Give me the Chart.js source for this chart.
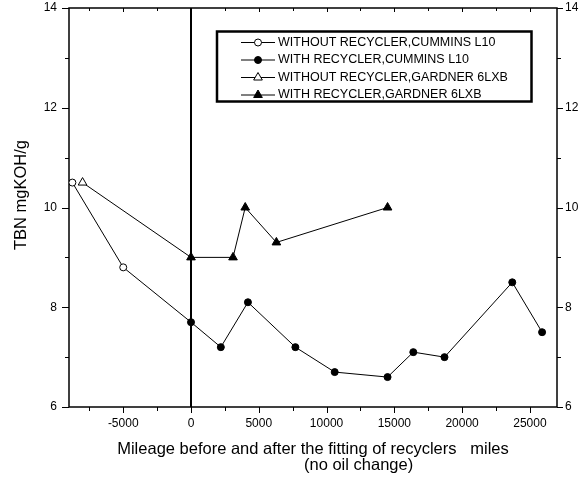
<!DOCTYPE html>
<html>
<head>
<meta charset="utf-8">
<script src="https://cdn.jsdelivr.net/npm/chart.js@4.4.1/dist/chart.umd.min.js"></script>
<style>
  html, body { margin: 0; padding: 0; background: #fff; }
  #wrap { width: 587px; height: 482px; }
</style>
</head>
<body>
<div id="wrap"><canvas id="tbnChart" width="587" height="482"></canvas></div>
<script>
// mileage (miles) and TBN (mgKOH/g)
const withoutCumminsMiles = [-8750, -5000, 0];
const withoutCumminsTbn = [10.5, 8.8, 7.7];
const withCumminsMiles = [0, 2200, 4200, 7700, 10600, 14500, 16400, 18700, 23700, 25900];
const withCumminsTbn = [7.7, 7.2, 8.1, 7.2, 6.7, 6.6, 7.1, 7.0, 8.5, 7.5];
const withoutGardnerMiles = [-8000, 0];
const withoutGardnerTbn = [10.5, 9.0];
const withGardnerMiles = [0, 3100, 4000, 6300, 14500];
const withGardnerTbn = [9.0, 9.0, 10.0, 9.3, 10.0];

const seriesNames = [
  "WITHOUT RECYCLER,CUMMINS L10",
  "WITH RECYCLER,CUMMINS L10",
  "WITHOUT RECYCLER,GARDNER 6LXB",
  "WITH RECYCLER,GARDNER 6LXB"
];

const xTicks = [-5000, 0, 5000, 10000, 15000, 20000, 25000];
const xMinorTicks = [-7500, -2500, 2500, 7500, 12500, 17500, 22500];
const yTicks = [6, 8, 10, 12, 14];
const yMinorTicks = [7, 9, 11, 13];

const FONT = "'Liberation Sans', Arial, Helvetica, sans-serif";

const toPoints = (xs, ys) => xs.map((x, i) => ({ x: x, y: ys[i] }));

const markerStyles = [
  { style: "circle", fill: "#fff", r: 3.5 },
  { style: "circle", fill: "#000", r: 3.5 },
  { style: "triangle", fill: "#fff", r: 5 },
  { style: "triangle", fill: "#000", r: 5 }
];

function makeDataset(i, pts, hideLast) {
  const m = markerStyles[i];
  return {
    label: seriesNames[i],
    data: pts,
    showLine: true,
    borderColor: "#000",
    borderWidth: 1,
    pointStyle: m.style,
    pointBackgroundColor: m.fill,
    pointBorderColor: "#000",
    pointBorderWidth: 1,
    // the "without" series end on the first "with" point, no marker there
    pointRadius: pts.map((p, j) => (hideLast && j === pts.length - 1 ? 0 : m.r)),
    pointHoverRadius: 0
  };
}

function drawMarker(ctx, i, x, y) {
  const m = markerStyles[i];
  ctx.save();
  ctx.fillStyle = m.fill;
  ctx.strokeStyle = "#000";
  ctx.lineWidth = 1;
  ctx.beginPath();
  if (m.style === "circle") {
    ctx.arc(x, y, m.r, 0, Math.PI * 2);
  } else {
    const r = m.r;
    ctx.moveTo(x, y - r);
    ctx.lineTo(x + r * Math.sin(2 * Math.PI / 3), y - r * Math.cos(2 * Math.PI / 3));
    ctx.lineTo(x + r * Math.sin(4 * Math.PI / 3), y - r * Math.cos(4 * Math.PI / 3));
    ctx.closePath();
  }
  ctx.fill();
  ctx.stroke();
  ctx.restore();
}

// frame, tick marks and the vertical line at 0 miles
const framePlugin = {
  id: "frame",
  beforeDatasetsDraw(chart) {
    const { ctx, chartArea: a, scales } = chart;
    const xs = scales.x, ys = scales.y;
    ctx.save();
    ctx.strokeStyle = "#000";

    ctx.lineWidth = 1;
    ctx.beginPath();
    xTicks.forEach(v => {
      const px = Math.round(xs.getPixelForValue(v)) + 0.5;
      ctx.moveTo(px, a.bottom); ctx.lineTo(px, a.bottom + 6);
      ctx.moveTo(px, a.top); ctx.lineTo(px, a.top + 4);
    });
    xMinorTicks.forEach(v => {
      const px = Math.round(xs.getPixelForValue(v)) + 0.5;
      ctx.moveTo(px, a.bottom); ctx.lineTo(px, a.bottom + 4);
      ctx.moveTo(px, a.top); ctx.lineTo(px, a.top + 3);
    });
    yTicks.forEach(v => {
      const py = Math.round(ys.getPixelForValue(v)) + 0.5;
      ctx.moveTo(a.left - 7, py); ctx.lineTo(a.left, py);
      ctx.moveTo(a.right, py); ctx.lineTo(a.right + 6, py);
    });
    yMinorTicks.forEach(v => {
      const py = Math.round(ys.getPixelForValue(v)) + 0.5;
      ctx.moveTo(a.left - 4, py); ctx.lineTo(a.left, py);
      ctx.moveTo(a.right, py); ctx.lineTo(a.right + 4, py);
    });
    ctx.stroke();

    ctx.lineWidth = 1.5;
    ctx.strokeRect(a.left, a.top, a.right - a.left, a.bottom - a.top);

    const zx = xs.getPixelForValue(0);
    ctx.lineWidth = 2;
    ctx.beginPath();
    ctx.moveTo(zx, a.top);
    ctx.lineTo(zx, a.bottom);
    ctx.stroke();
    ctx.restore();
  },
  afterDraw(chart) {
    const { ctx, chartArea: a } = chart;
    ctx.save();

    // legend box
    ctx.strokeStyle = "#000";
    ctx.lineWidth = 2.5;
    ctx.strokeRect(217, 31.5, 314.5, 70);
    const rowY = [42.5, 60, 77.5, 95];
    ctx.font = "12.5px " + FONT;
    ctx.textBaseline = "middle";
    ctx.fillStyle = "#000";
    seriesNames.forEach((name, i) => {
      ctx.lineWidth = 1;
      ctx.beginPath();
      ctx.moveTo(241, rowY[i]);
      ctx.lineTo(275, rowY[i]);
      ctx.stroke();
      drawMarker(ctx, i, 258, rowY[i]);
      ctx.fillStyle = "#000";
      ctx.fillText(name, 278, rowY[i]);
    });

    // axis titles
    ctx.font = "16.5px " + FONT;
    ctx.textAlign = "center";
    ctx.fillText("Mileage before and after the fitting of recyclers   miles", (a.left + a.right) / 2, 449);
    ctx.textAlign = "left";
    ctx.fillText("(no oil change)", 304, 465);

    ctx.translate(21, 195);
    ctx.rotate(-Math.PI / 2);
    ctx.textAlign = "center";
    ctx.fillText("TBN mgKOH/g", 0, 0);
    ctx.restore();
  }
};

const tickFont = { family: FONT, size: 12 };

const fitY = w => s => { s.width = w; s.paddingTop = 0; s.paddingBottom = 0; };

new Chart(document.getElementById("tbnChart"), {
  type: "scatter",
  data: {
    datasets: [
      makeDataset(0, toPoints(withoutCumminsMiles, withoutCumminsTbn), true),
      makeDataset(1, toPoints(withCumminsMiles, withCumminsTbn), false),
      makeDataset(2, toPoints(withoutGardnerMiles, withoutGardnerTbn), true),
      makeDataset(3, toPoints(withGardnerMiles, withGardnerTbn), false)
    ]
  },
  options: {
    responsive: false,
    devicePixelRatio: 1,
    animation: false,
    layout: { padding: { top: 8, left: 0, right: 0, bottom: 0 } },
    plugins: { legend: { display: false }, tooltip: { enabled: false } },
    elements: { line: { tension: 0 } },
    scales: {
      x: {
        type: "linear",
        position: "bottom",
        min: -9000,
        max: 27000,
        grid: { display: false, drawTicks: false },
        border: { display: false },
        afterBuildTicks: s => { s.ticks = xTicks.map(v => ({ value: v })); },
        afterFit: s => { s.height = 75; s.paddingLeft = 0; s.paddingRight = 0; },
        ticks: { color: "#000", font: tickFont, padding: 9, maxRotation: 0, callback: v => String(v) }
      },
      y: {
        type: "linear",
        position: "left",
        min: 6,
        max: 14,
        grid: { display: false, drawTicks: false },
        border: { display: false },
        afterBuildTicks: s => { s.ticks = yTicks.map(v => ({ value: v })); },
        afterFit: fitY(69),
        ticks: { color: "#000", font: tickFont, padding: 12, callback: v => String(v) }
      },
      y2: {
        type: "linear",
        position: "right",
        min: 6,
        max: 14,
        grid: { display: false, drawTicks: false },
        border: { display: false },
        afterBuildTicks: s => { s.ticks = yTicks.map(v => ({ value: v })); },
        afterFit: fitY(30),
        ticks: { color: "#000", font: tickFont, padding: 8, callback: v => String(v) }
      }
    }
  },
  plugins: [framePlugin]
});
</script>
</body>
</html>
